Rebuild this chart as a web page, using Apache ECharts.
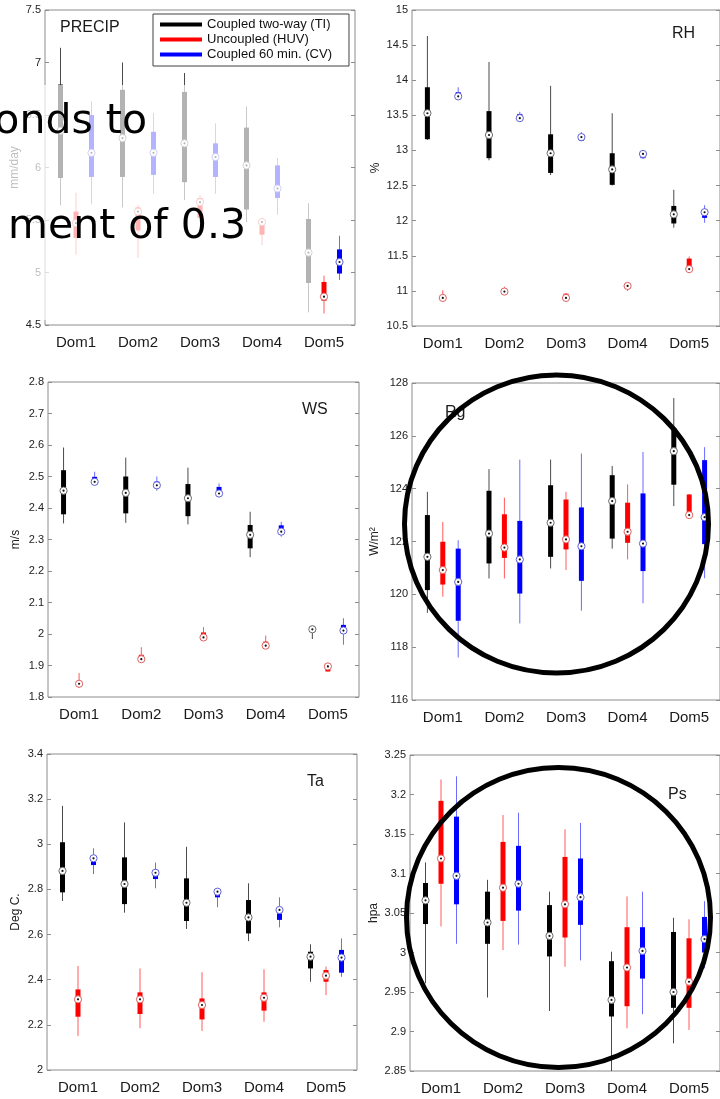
<!DOCTYPE html>
<html>
<head>
<meta charset="utf-8">
<script src="https://cdn.jsdelivr.net/npm/echarts@6/dist/echarts.min.js"></script>
<style>
  html, body { margin: 0; padding: 0; background: #fff; }
  #chart { width: 720px; height: 1099px; }
</style>
</head>
<body>
<div id="chart"></div>
<script>
// Domains on the x axis of every panel
const categories = ['Dom1', 'Dom2', 'Dom3', 'Dom4', 'Dom5'];
const seriesNames = ['Coupled two-way (TI)', 'Uncoupled (HUV)', 'Coupled 60 min. (CV)'];

// Each row: [lower whisker, box low, median, box high, upper whisker]
const precipTI  = [[5.64, 5.90, 6.35, 6.79, 7.14], [5.62, 5.91, 6.28, 6.74, 7.00], [5.69, 5.86, 6.23, 6.72, 6.90], [5.48, 5.60, 6.02, 6.38, 6.58], [4.62, 4.90, 5.19, 5.51, 5.66]];
const precipHUV = [[5.17, 5.33, 5.47, 5.58, 5.76], [5.14, 5.40, 5.58, 5.62, 5.64], [5.48, 5.52, 5.67, 5.71, 5.74], [5.26, 5.36, 5.48, 5.50, 5.52], [4.61, 4.73, 4.77, 4.91, 4.97]];
const precipCV  = [[5.65, 5.91, 6.14, 6.50, 6.63], [5.75, 5.93, 6.14, 6.34, 6.52], [5.75, 5.91, 6.10, 6.23, 6.42], [5.55, 5.71, 5.80, 6.02, 6.09], [4.93, 4.99, 5.10, 5.22, 5.35]];

const rhTI  = [[13.15, 13.16, 13.53, 13.90, 14.63], [12.86, 12.89, 13.22, 13.56, 14.26], [12.65, 12.68, 12.96, 13.23, 13.92], [12.50, 12.51, 12.73, 12.96, 13.53], [11.90, 11.96, 12.09, 12.21, 12.44]];
const rhHUV = [[10.88, 10.89, 10.90, 10.93, 11.01], [10.96, 10.98, 10.99, 11.02, 11.06], [10.87, 10.90, 10.90, 10.96, 10.97], [11.00, 11.05, 11.07, 11.09, 11.12], [11.28, 11.31, 11.31, 11.46, 11.49]];
const rhCV  = [[13.74, 13.79, 13.77, 13.83, 13.90], [13.43, 13.48, 13.46, 13.52, 13.55], [13.13, 13.14, 13.19, 13.17, 13.26], [12.88, 12.89, 12.95, 12.92, 12.98], [11.97, 12.04, 12.12, 12.08, 12.22]];

const wsTI  = [[2.351, 2.380, 2.455, 2.520, 2.592], [2.353, 2.383, 2.448, 2.500, 2.560], [2.348, 2.374, 2.431, 2.476, 2.528], [2.244, 2.272, 2.315, 2.346, 2.388], [1.984, 2.008, 2.015, 2.024, 2.026]];
const wsHUV = [[1.829, 1.832, 1.842, 1.848, 1.876], [1.913, 1.915, 1.920, 1.934, 1.958], [1.982, 1.990, 1.989, 2.005, 2.022], [1.955, 1.962, 1.963, 1.976, 1.995], [1.881, 1.881, 1.897, 1.892, 1.902]];
const wsCV  = [[2.473, 2.488, 2.483, 2.499, 2.515], [2.455, 2.475, 2.472, 2.484, 2.500], [2.436, 2.455, 2.446, 2.467, 2.478], [2.309, 2.334, 2.325, 2.345, 2.356], [1.966, 2.011, 2.011, 2.029, 2.050]];

const rgTI  = [[119.30, 120.16, 121.42, 123.00, 123.88], [120.60, 121.17, 122.30, 123.92, 124.74], [120.98, 121.42, 122.71, 124.13, 125.10], [121.73, 122.11, 123.53, 124.51, 124.86], [123.34, 124.15, 125.42, 126.29, 127.43]];
const rgHUV = [[119.91, 120.37, 120.92, 121.99, 122.74], [120.60, 121.38, 121.77, 123.03, 123.66], [120.92, 121.70, 122.08, 123.59, 123.88], [121.32, 121.95, 122.37, 123.47, 124.16], [123.00, 123.00, 123.00, 123.78, 123.80]];
const rgCV  = [[117.61, 119.00, 120.47, 121.73, 122.05], [118.90, 120.03, 121.32, 122.78, 125.10], [119.38, 120.51, 121.82, 123.29, 125.33], [119.66, 120.88, 121.92, 123.82, 125.39], [120.61, 121.90, 122.92, 125.08, 125.57]];

const taTI  = [[2.749, 2.787, 2.882, 3.009, 3.170], [2.697, 2.735, 2.824, 2.942, 3.097], [2.625, 2.660, 2.741, 2.849, 2.989], [2.571, 2.605, 2.676, 2.753, 2.827], [2.391, 2.450, 2.502, 2.524, 2.557]];
const taHUV = [[2.151, 2.236, 2.313, 2.357, 2.461], [2.185, 2.248, 2.313, 2.344, 2.450], [2.173, 2.224, 2.288, 2.317, 2.433], [2.214, 2.263, 2.320, 2.344, 2.446], [2.332, 2.391, 2.418, 2.443, 2.458]];
const taCV  = [[2.868, 2.908, 2.938, 2.923, 2.982], [2.805, 2.846, 2.874, 2.861, 2.919], [2.721, 2.765, 2.790, 2.780, 2.805], [2.632, 2.665, 2.709, 2.694, 2.765], [2.413, 2.431, 2.498, 2.532, 2.583]];

const psTI  = [[2.961, 3.036, 3.066, 3.088, 3.114], [2.943, 3.011, 3.038, 3.077, 3.092], [2.926, 2.995, 3.021, 3.060, 3.077], [2.850, 2.919, 2.940, 2.989, 3.001], [2.885, 2.930, 2.950, 3.026, 3.044]];
const psHUV = [[3.033, 3.087, 3.119, 3.192, 3.219], [3.003, 3.040, 3.082, 3.140, 3.174], [2.982, 3.019, 3.061, 3.121, 3.156], [2.904, 2.932, 2.981, 3.032, 3.071], [2.902, 2.930, 2.963, 3.018, 3.042]];
const psCV  = [[3.011, 3.061, 3.097, 3.172, 3.223], [3.010, 3.053, 3.087, 3.135, 3.177], [2.990, 3.035, 3.070, 3.119, 3.164], [2.922, 2.967, 3.002, 3.032, 3.077], [2.980, 3.000, 3.017, 3.045, 3.065]];

// Panel layout and axis ranges
const panels = [
  { title: 'PRECIP', unit: 'mm/day', min: 4.5, max: 7.5, interval: 0.5, grid: { left: 45, top: 10, width: 310, height: 315 }, nameGap: 24, data: [precipTI, precipHUV, precipCV], titlePos: [60, 28] },
  { title: 'RH', unit: '%', min: 10.5, max: 15, interval: 0.5, grid: { left: 412, top: 10, width: 310, height: 316 }, nameGap: 30, data: [rhTI, rhHUV, rhCV], titlePos: [672, 34] },
  { title: 'WS', unit: 'm/s', min: 1.8, max: 2.8, interval: 0.1, grid: { left: 48, top: 382, width: 311, height: 315 }, nameGap: 26, data: [wsTI, wsHUV, wsCV], titlePos: [302, 410] },
  { title: 'Rg', unit: 'W/m²', min: 116, max: 128, interval: 2, grid: { left: 412, top: 383, width: 310, height: 317 }, nameGap: 31, data: [rgTI, rgHUV, rgCV], titlePos: [445, 413] },
  { title: 'Ta', unit: 'Deg C.', min: 2, max: 3.4, interval: 0.2, grid: { left: 47, top: 754, width: 310, height: 316 }, nameGap: 25, data: [taTI, taHUV, taCV], titlePos: [307, 782] },
  { title: 'Ps', unit: 'hpa', min: 2.85, max: 3.25, interval: 0.05, grid: { left: 410, top: 755, width: 310, height: 316 }, nameGap: 30, data: [psTI, psHUV, psCV], titlePos: [668, 795] }
];

// Box colour, whisker colour and median ring colour for each run, with x offset in category bands
const styles = [
  { fill: '#000000', whisker: '#4a4a4a', ring: '#6a6a6a', offset: -0.25 },
  { fill: '#ff0000', whisker: '#ff5a5a', ring: '#e06060', offset: 0 },
  { fill: '#0000ff', whisker: '#6b6bff', ring: '#6060d8', offset: 0.25 }
];

const FONT = '"Liberation Sans", Arial, sans-serif';
const FRAME = '#8c8c8c';

// Compact box: thin whisker, thick box, ringed median with centre dot
function boxRenderer(st) {
  return function (params, api) {
    const i = api.value(0);
    const band = api.size([1, 0])[0];
    const x = api.coord([i, api.value(3)])[0] + st.offset * band;
    const y = k => api.coord([i, api.value(k)])[1];
    const wLo = y(1), q1 = y(2), med = y(3), q3 = y(4), wHi = y(5);
    const top = Math.min(q1, q3);
    const h = Math.max(Math.abs(q1 - q3), 1);
    return {
      type: 'group',
      children: [
        { type: 'line', shape: { x1: x, y1: wLo, x2: x, y2: wHi }, style: { stroke: st.whisker, lineWidth: 1 } },
        { type: 'rect', shape: { x: x - 2.5, y: top, width: 5, height: h }, style: { fill: st.fill } },
        { type: 'circle', shape: { cx: x, cy: med, r: 3.6 }, style: { fill: '#ffffff', stroke: st.ring, lineWidth: 1 } },
        { type: 'circle', shape: { cx: x, cy: med, r: 1.1 }, style: { fill: '#111111' } }
      ]
    };
  };
}

const grids = [], xAxes = [], yAxes = [], series = [], graphics = [];

panels.forEach((p, pi) => {
  grids.push(Object.assign({ show: true, borderColor: FRAME, borderWidth: 1, backgroundColor: 'transparent' }, p.grid));
  xAxes.push({
    type: 'category', gridIndex: pi, data: categories, boundaryGap: true,
    axisLine: { show: false }, axisTick: { show: false },
    axisLabel: { fontSize: 15, fontFamily: FONT, color: '#1a1a1a', margin: 10 }
  });
  const tickStyle = { show: true, inside: true, length: 4, lineStyle: { color: FRAME } };
  yAxes.push({
    type: 'value', gridIndex: pi, min: p.min, max: p.max, interval: p.interval, position: 'left',
    axisLine: { show: false }, axisTick: tickStyle, splitLine: { show: false },
    axisLabel: { fontSize: 11, fontFamily: FONT, color: '#222', margin: 4 },
    name: p.unit, nameLocation: 'middle', nameGap: p.nameGap, nameRotate: 90,
    nameTextStyle: { fontSize: 12, fontFamily: FONT, color: '#222' }
  });
  yAxes.push({
    type: 'value', gridIndex: pi, min: p.min, max: p.max, interval: p.interval, position: 'right',
    axisLine: { show: false }, axisTick: tickStyle, splitLine: { show: false },
    axisLabel: { show: false }
  });
  p.data.forEach((arr, si) => {
    series.push({
      type: 'custom', name: seriesNames[si],
      xAxisIndex: pi, yAxisIndex: pi * 2,
      itemStyle: { color: styles[si].fill },
      renderItem: boxRenderer(styles[si]),
      encode: { x: 0, y: [1, 2, 3, 4, 5] },
      data: arr.map((v, ci) => [ci].concat(v)),
      z: 3
    });
  });
  graphics.push({
    type: 'text', x: p.titlePos[0], y: p.titlePos[1], z: 20,
    style: { text: p.title, fill: '#1a1a1a', font: '16px ' + FONT, align: 'left', textAlign: 'left', verticalAlign: 'middle', textVerticalAlign: 'middle' }
  });
});

// Washed-out band over the left part of the precipitation panel
graphics.push({
  type: 'rect', z: 50,
  shape: { x: 0, y: 85, width: 317, height: 235 },
  style: { fill: 'rgba(255,255,255,0.7)' }
});

// Large caption text crossing the precipitation panel
graphics.push({
  type: 'text', x: 147, y: 122, z: 60,
  style: { text: 'onds to', fill: '#000', font: '41px "DejaVu Sans", sans-serif', align: 'right', textAlign: 'right', verticalAlign: 'middle', textVerticalAlign: 'middle' }
});
graphics.push({
  type: 'text', x: 246, y: 227, z: 60,
  style: { text: 'ment of 0.3', fill: '#000', font: '41px "DejaVu Sans", sans-serif', align: 'right', textAlign: 'right', verticalAlign: 'middle', textVerticalAlign: 'middle' }
});

// Highlight rings around the Rg and Ps panels
graphics.push({
  type: 'ellipse', z: 70,
  shape: { cx: 556.5, cy: 524, rx: 152, ry: 149 },
  style: { fill: 'none', stroke: '#000', lineWidth: 5 }
});
graphics.push({
  type: 'ellipse', z: 70,
  shape: { cx: 558.5, cy: 917.5, rx: 152, ry: 150 },
  style: { fill: 'none', stroke: '#000', lineWidth: 5 }
});

const chart = echarts.init(document.getElementById('chart'), null, { renderer: 'canvas' });
chart.setOption({
  animation: false,
  backgroundColor: '#ffffff',
  grid: grids,
  xAxis: xAxes,
  yAxis: yAxes,
  legend: {
    left: 153, top: 14, orient: 'vertical',
    itemWidth: 42, itemHeight: 4, itemGap: 0,
    padding: [3, 17, 4, 7],
    borderColor: '#404040', borderWidth: 1, backgroundColor: '#ffffff',
    textStyle: { fontSize: 13, fontFamily: FONT, color: '#111', lineHeight: 15 },
    data: seriesNames.map(n => ({ name: n, icon: 'rect' })),
    z: 10
  },
  series: series,
  graphic: { elements: graphics }
});
</script>
</body>
</html>
